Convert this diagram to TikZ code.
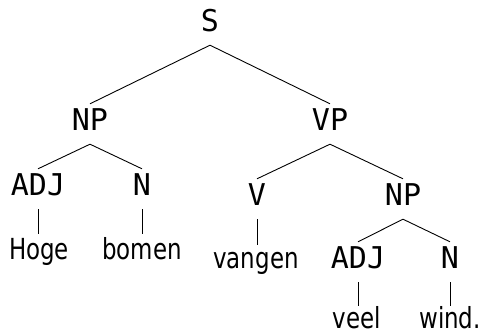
\documentclass[tikz,border=0pt]{standalone}
\usepackage{fontspec}
\newfontfamily\catfont{DejaVu Sans Mono}
\newfontfamily\wordfont{DejaVu Sans}[FakeStretch=0.79]
\begin{document}
\begin{tikzpicture}[x=1pt,y=-1pt,
  cat/.style={anchor=base,font=\catfont\fontsize{30}{32}\selectfont,text height=21pt,text depth=9pt,inner ysep=5pt,inner xsep=0pt},
  word/.style={anchor=base,font=\wordfont\fontsize{29}{31}\selectfont,text height=19pt,text depth=0pt,inner ysep=0pt,inner xsep=0pt},
  edge/.style={line width=0.9pt,black}]
\useasboundingbox (0,0) rectangle (482,332);
\node[cat] (S) at (210,31) {S};
\node[cat] (NP) at (90,130) {NP};
\node[cat] (VP) at (330,130) {VP};
\node[cat] (ADJa) at (38,195) {ADJ};
\node[cat] (Na) at (142,195) {N};
\node[cat] (V) at (257,205) {V};
\node[cat] (NPb) at (403,205) {NP};
\node[cat] (ADJb) at (358,268) {ADJ};
\node[cat] (Nb) at (450,268) {N};
\node[word] (hoge) at (39,259) {Hoge};
\node[word] (bomen) at (142,259) {bomen};
\node[word] (vangen) at (256,268) {vangen};
\node[word] (veel) at (357,328) {veel};
\node[word] (wind) at (450,328) {wind.};
\coordinate (hogetop) at ([yshift=6pt]hoge.north -| ADJa.south);
\coordinate (bomentop) at ([yshift=6pt]bomen.north -| Na.south);
\coordinate (vangentop) at ([yshift=4pt]vangen.north -| V.south);
\coordinate (veeltop) at ([yshift=3pt]veel.north -| ADJb.south);
\coordinate (windtop) at ([yshift=3pt]wind.north -| Nb.south);
\draw[edge] (S.south) -- (NP.north);
\draw[edge] (S.south) -- (VP.north);
\draw[edge] (NP.south) -- (ADJa.north);
\draw[edge] (NP.south) -- (Na.north);
\draw[edge] (VP.south) -- (V.north);
\draw[edge] (VP.south) -- (NPb.north);
\draw[edge] (NPb.south) -- (ADJb.north);
\draw[edge] (NPb.south) -- (Nb.north);
\draw[edge] (ADJa.south) -- (hogetop);
\draw[edge] (Na.south) -- (bomentop);
\draw[edge] (V.south) -- (vangentop);
\draw[edge] (ADJb.south) -- (veeltop);
\draw[edge] (Nb.south) -- (windtop);
\end{tikzpicture}
\end{document}
